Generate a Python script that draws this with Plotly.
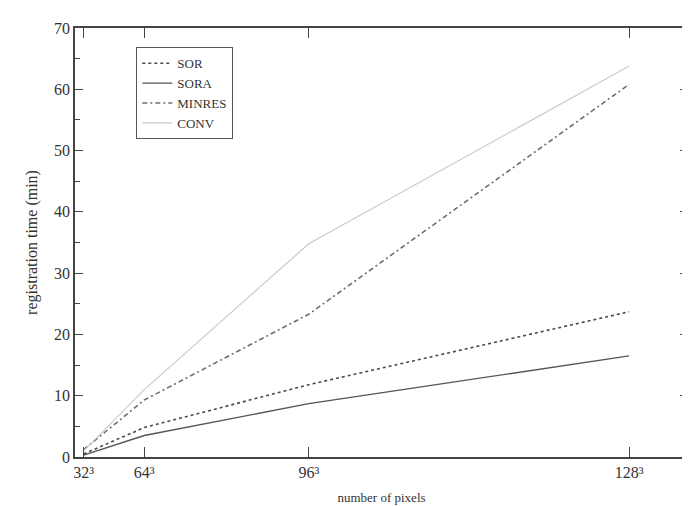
import plotly.graph_objects as go

x_labels = ["32³", "64³", "96³", "128³"]
x_values = [32**3, 64**3, 96**3, 128**3]

sor = [0.5, 4.8, 11.8, 23.7]
sora = [0.3, 3.5, 8.7, 16.5]
minres = [1.2, 9.3, 23.3, 60.8]
conv = [1.0, 11.0, 34.8, 63.8]

fig = go.Figure()
fig.add_trace(go.Scatter(x=x_values, y=sor, name="SOR", mode="lines",
                         line=dict(color="#4a4a4a", width=1.6, dash="3px,3px")))
fig.add_trace(go.Scatter(x=x_values, y=sora, name="SORA", mode="lines",
                         line=dict(color="#555555", width=1.4)))
fig.add_trace(go.Scatter(x=x_values, y=minres, name="MINRES", mode="lines",
                         line=dict(color="#6e6e6e", width=1.6, dash="5px,3px,2px,3px")))
fig.add_trace(go.Scatter(x=x_values, y=conv, name="CONV", mode="lines",
                         line=dict(color="#cacaca", width=1.2)))

font_family = "Liberation Serif, Times New Roman, serif"
fig.update_layout(
    width=690, height=506,
    margin=dict(l=67, r=8, t=20, b=57),
    paper_bgcolor="white", plot_bgcolor="white",
    font=dict(family=font_family, color="#333333", size=16),
    showlegend=True,
    legend=dict(x=0.1, y=0.955, xanchor="left", yanchor="top",
                bordercolor="#555555", borderwidth=1, bgcolor="white",
                font=dict(size=13, family=font_family), tracegroupgap=0,
                itemwidth=30),
    xaxis=dict(
        range=[0, 2.32e6], tickmode="array", tickvals=x_values, ticktext=x_labels,
        ticks="inside", ticklen=10, tickcolor="#444444", showline=True,
        linecolor="#444444", linewidth=1.5, mirror="ticks", showgrid=False,
        zeroline=False, tickfont=dict(size=16),
        title=dict(text="number of pixels", font=dict(size=13), standoff=13),
    ),
    yaxis=dict(
        range=[0, 70], dtick=10, ticks="inside", ticklen=8, tickcolor="#444444",
        showline=True, linecolor="#444444", linewidth=1.5, mirror="allticks",
        showgrid=False, zeroline=False, tickfont=dict(size=16),
        minor=dict(dtick=5, ticks="inside", ticklen=5, tickcolor="#444444"),
        title=dict(text="registration time (min)", font=dict(size=16), standoff=12),
    ),
)

fig.write_html("out.html")
